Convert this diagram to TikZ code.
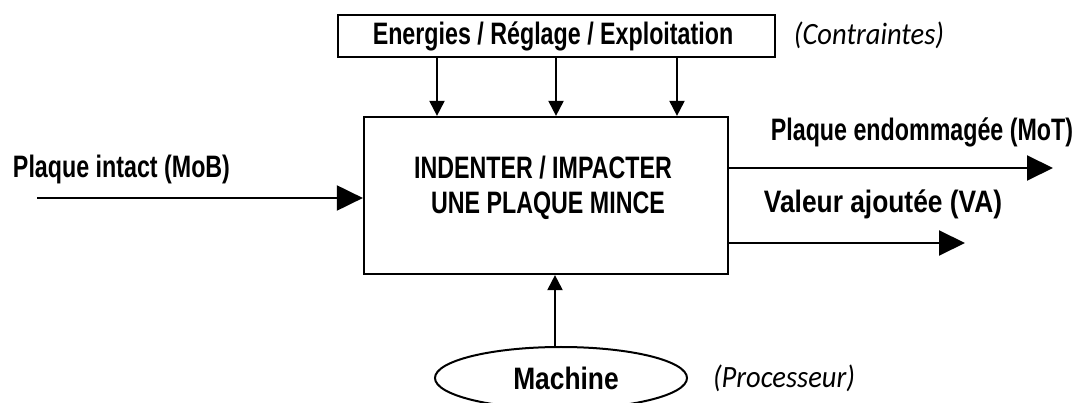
\documentclass[tikz,border=0pt]{standalone}
\usepackage{fontspec}
\setmainfont{Liberation Sans}
\usetikzlibrary{shapes.geometric, arrows.meta}
\newfontfamily\etichetta[FakeStretch=0.75]{Liberation Sans Bold}
\newfontfamily\etichettaLarga[FakeStretch=0.85]{Liberation Sans Bold}
\newfontfamily\nota[FakeStretch=0.92]{Carlito}

\begin{document}
\begin{tikzpicture}[x = 1pt, y = -1pt]
    \tikzset{
        scatola/.style = {draw, line width = 2.2pt, inner sep = 0pt},
        testo/.style = {font = \etichetta\fontsize{31}{35}\selectfont, inner sep = 0pt},
        testoLargo/.style = {font = \etichettaLarga\fontsize{31}{35}\selectfont, inner sep = 0pt},
        commento/.style = {font = \nota\itshape\fontsize{31}{36}\selectfont, inner sep = 0pt},
        freccia/.style = {line width = 2pt, -{Triangle[length = 15pt, width = 15pt]}},
        frecciona/.style = {line width = 2pt, -{Triangle[length = 26pt, width = 25pt]}}
    }
    \useasboundingbox (0,0) rectangle (1080,403);
    
    % Vincoli in alto
    \node[scatola, minimum width = 437pt, minimum height = 42pt] (energie) at (556.5,36) {};
    \node[testo] (energieT) at (553,36) {Energies / Réglage / Exploitation};
    \node[commento] (contraintes) at (869,35) {(Contraintes)};
    
    % Funzione principale
    \node[scatola, minimum width = 364pt, minimum height = 157pt] (funzione) at (546,195.5) {};
    \node[testo, align = center] (funzioneT) at (543,188) {INDENTER / IMPACTER\\ \hspace{10pt}UNE PLAQUE MINCE};
    
    % Frecce dei vincoli
    \foreach \x in {437,556,677}{
        \draw[freccia] (energie.south -| \x,0) -- (funzione.north -| \x,0);
    };
    
    % Materia in ingresso
    \coordinate (ingresso) at (37,198);
    \node[testo] (intact) at (121.5,169) {Plaque intact (MoB)};
    \draw[frecciona] (ingresso) -- (ingresso -| funzione.west);
    
    % Uscite
    \coordinate (uscitaUno) at (1053,168);
    \coordinate (uscitaDue) at (965,243);
    \node[testo] (endommagee) at (922,132) {Plaque endommagée (MoT)};
    \node[testoLargo] (valeur) at (883,204) {Valeur ajoutée (VA)};
    \draw[frecciona] (funzione.east |- uscitaUno) -- (uscitaUno);
    \draw[frecciona] (funzione.east |- uscitaDue) -- (uscitaDue);
    
    % Processore
    \node[draw, ellipse, line width = 2pt, minimum width = 252pt, minimum height = 62pt, testoLargo] (macchina) at (561,378) {\hspace{10pt}Machine};
    \node[commento] (processeur) at (784,378) {(Processeur)};
    \draw[freccia] (macchina.north -| 555,0) -- (funzione.south -| 555,0);
\end{tikzpicture}
\end{document}
